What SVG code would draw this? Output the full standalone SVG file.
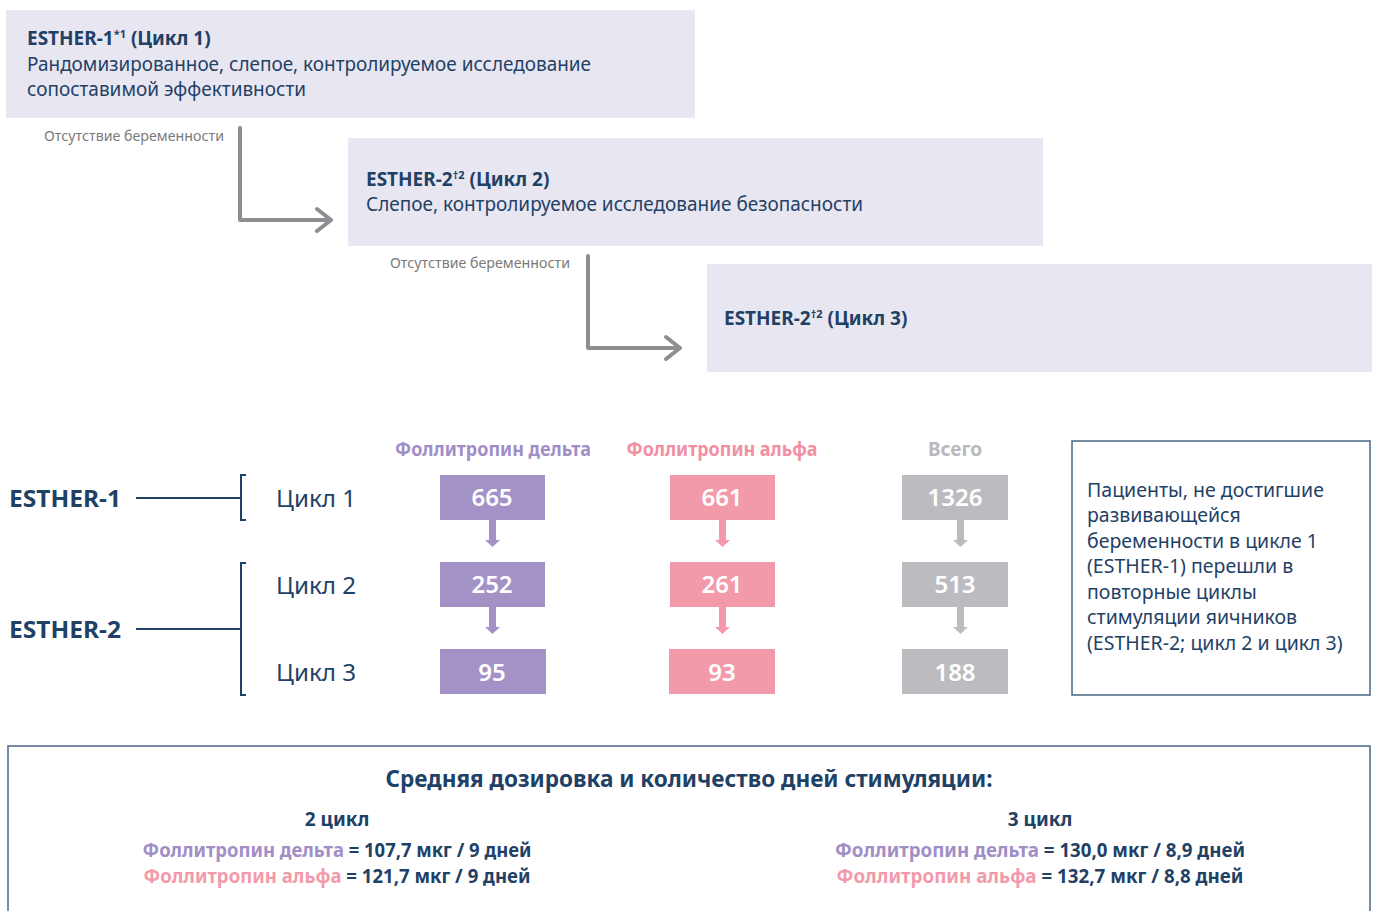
<svg xmlns="http://www.w3.org/2000/svg" width="1381" height="911" viewBox="0 0 1381 911">
<style>
.t{font-family:"Noto Sans","Open Sans","Liberation Sans",sans-serif;fill:#1f4166}
.b{font-weight:bold}
.box{fill:#e8e6f1}
.lbl{font-family:"Noto Sans","Liberation Sans",sans-serif;font-size:14px;fill:#7a7a7a}
.flow{fill:none;stroke:#8e8e92;stroke-width:4;stroke-linecap:round;stroke-linejoin:round}
.ln{fill:none;stroke:#1f4166;stroke-width:2}
.num{font-family:"Noto Sans","Open Sans",sans-serif;font-size:24px;font-weight:600;fill:#fff;text-anchor:middle}
.pu{fill:#a392c6}.pk{fill:#f29aaa}.gr{fill:#bcbcc0}
.frame{fill:none;stroke:#4a6687;stroke-width:1.5}
</style>
<rect width="1381" height="911" fill="#fff"/>

<g id="esther1-box">
<rect class="box" x="6" y="10" width="689" height="108"/>
<text class="t b" x="27" y="45" font-size="19">ESTHER-1<tspan font-size="11" dy="-7">*1</tspan><tspan dy="7"> (Цикл 1)</tspan></text>
<text class="t" x="27" y="71" font-size="19" textLength="564" lengthAdjust="spacingAndGlyphs">Рандомизированное, слепое, контролируемое исследование</text>
<text class="t" x="27" y="96" font-size="19" textLength="279" lengthAdjust="spacingAndGlyphs">сопоставимой эффективности</text>
</g>

<g id="esther2-box">
<rect class="box" x="348" y="138" width="695" height="108"/>
<text class="t b" x="366" y="186" font-size="19">ESTHER-2<tspan font-size="11" dy="-7">†2</tspan><tspan dy="7"> (Цикл 2)</tspan></text>
<text class="t" x="366" y="211" font-size="19" textLength="497" lengthAdjust="spacingAndGlyphs">Слепое, контролируемое исследование безопасности</text>
</g>

<g id="esther2c3-box">
<rect class="box" x="707" y="264" width="665" height="108"/>
<text class="t b" x="724" y="325" font-size="19">ESTHER-2<tspan font-size="11" dy="-7">†2</tspan><tspan dy="7"> (Цикл 3)</tspan></text>
</g>

<g id="connectors">
<path class="flow" d="M240 128 V220 H330 M317 209 L331 220 L317 231"/>
<path class="flow" d="M588 256 V348 H679 M666 337 L680 348 L666 359"/>
<text class="lbl" x="44" y="141" textLength="180" lengthAdjust="spacingAndGlyphs">Отсутствие беременности</text>
<text class="lbl" x="390" y="268" textLength="180" lengthAdjust="spacingAndGlyphs">Отсутствие беременности</text>
</g>

<g id="headers">
<text class="t b" x="493" y="456" font-size="19" text-anchor="middle" style="fill:#a18ec6" textLength="196" lengthAdjust="spacingAndGlyphs">Фоллитропин дельта</text>
<text class="t b" x="722" y="456" font-size="19" text-anchor="middle" style="fill:#f28fa2" textLength="191" lengthAdjust="spacingAndGlyphs">Фоллитропин альфа</text>
<text class="t b" x="955" y="456" font-size="19" text-anchor="middle" style="fill:#b9b9bd">Всего</text>
</g>

<g id="study-labels">
<text class="t b" x="9" y="507" font-size="24" textLength="112" lengthAdjust="spacingAndGlyphs">ESTHER-1</text>
<text class="t b" x="9" y="638" font-size="24" textLength="112" lengthAdjust="spacingAndGlyphs">ESTHER-2</text>
<path class="ln" d="M136 498 H241 M246 475 H241 V520 H246"/>
<path class="ln" d="M136 629 H241 M246 563 H241 V695 H246"/>
<text class="t" x="276" y="507" font-size="24" textLength="80" lengthAdjust="spacingAndGlyphs">Цикл 1</text>
<text class="t" x="276" y="594" font-size="24" textLength="80" lengthAdjust="spacingAndGlyphs">Цикл 2</text>
<text class="t" x="276" y="681" font-size="24" textLength="80" lengthAdjust="spacingAndGlyphs">Цикл 3</text>
</g>

<g id="col-delta">
<rect class="pu" x="440" y="475" width="105" height="45"/>
<rect class="pu" x="440" y="562" width="105" height="45"/>
<rect class="pu" x="440" y="649" width="106" height="45"/>
<path class="pu" d="M489 520 h7 v20 h4 l-7.5 7 l-7.5 -7 h4 z M489 607 h7 v20 h4 l-7.5 7 l-7.5 -7 h4 z"/>
<text class="num" x="492" y="506">665</text>
<text class="num" x="492" y="593">252</text>
<text class="num" x="492" y="681">95</text>
</g>

<g id="col-alfa">
<rect class="pk" x="670" y="475" width="105" height="45"/>
<rect class="pk" x="670" y="562" width="105" height="45"/>
<rect class="pk" x="669" y="649" width="106" height="45"/>
<path class="pk" d="M719 520 h7 v20 h4 l-7.5 7 l-7.5 -7 h4 z M719 607 h7 v20 h4 l-7.5 7 l-7.5 -7 h4 z"/>
<text class="num" x="722" y="506">661</text>
<text class="num" x="722" y="593">261</text>
<text class="num" x="722" y="681">93</text>
</g>

<g id="col-total">
<rect class="gr" x="902" y="475" width="106" height="45"/>
<rect class="gr" x="902" y="562" width="106" height="45"/>
<rect class="gr" x="902" y="649" width="106" height="45"/>
<path class="gr" d="M957 520 h7 v20 h4 l-7.5 7 l-7.5 -7 h4 z M957 607 h7 v20 h4 l-7.5 7 l-7.5 -7 h4 z"/>
<text class="num" x="955" y="506">1326</text>
<text class="num" x="955" y="593">513</text>
<text class="num" x="955" y="681">188</text>
</g>

<g id="note">
<rect class="frame" x="1072" y="441" width="298" height="254"/>
<text class="t" font-size="19.5">
<tspan x="1087" y="497">Пациенты, не достигшие</tspan>
<tspan x="1087" y="522">развивающейся</tspan>
<tspan x="1087" y="548">беременности в цикле 1</tspan>
<tspan x="1087" y="573">(ESTHER-1) перешли в</tspan>
<tspan x="1087" y="599">повторные циклы</tspan>
<tspan x="1087" y="624">стимуляции яичников</tspan>
<tspan x="1087" y="650">(ESTHER-2; цикл 2 и цикл 3)</tspan>
</text>
</g>

<g id="summary">
<rect class="frame" x="8" y="746" width="1362" height="180"/>
<text class="t b" x="689" y="787" font-size="23" text-anchor="middle" textLength="607" lengthAdjust="spacingAndGlyphs">Средняя дозировка и количество дней стимуляции:</text>
<text class="t b" x="337" y="826" font-size="19" text-anchor="middle">2 цикл</text>
<text class="t b" x="337" y="857" font-size="19" text-anchor="middle" textLength="389" lengthAdjust="spacingAndGlyphs"><tspan style="fill:#a18ec6">Фоллитропин дельта</tspan> = 107,7 мкг / 9 дней</text>
<text class="t b" x="337" y="883" font-size="19" text-anchor="middle" textLength="387" lengthAdjust="spacingAndGlyphs"><tspan style="fill:#f29aaa">Фоллитропин альфа</tspan> = 121,7 мкг / 9 дней</text>
<text class="t b" x="1040" y="826" font-size="19" text-anchor="middle">3 цикл</text>
<text class="t b" x="1040" y="857" font-size="19" text-anchor="middle" textLength="410" lengthAdjust="spacingAndGlyphs"><tspan style="fill:#a18ec6">Фоллитропин дельта</tspan> = 130,0 мкг / 8,9 дней</text>
<text class="t b" x="1040" y="883" font-size="19" text-anchor="middle" textLength="407" lengthAdjust="spacingAndGlyphs"><tspan style="fill:#f29aaa">Фоллитропин альфа</tspan> = 132,7 мкг / 8,8 дней</text>
</g>
</svg>
